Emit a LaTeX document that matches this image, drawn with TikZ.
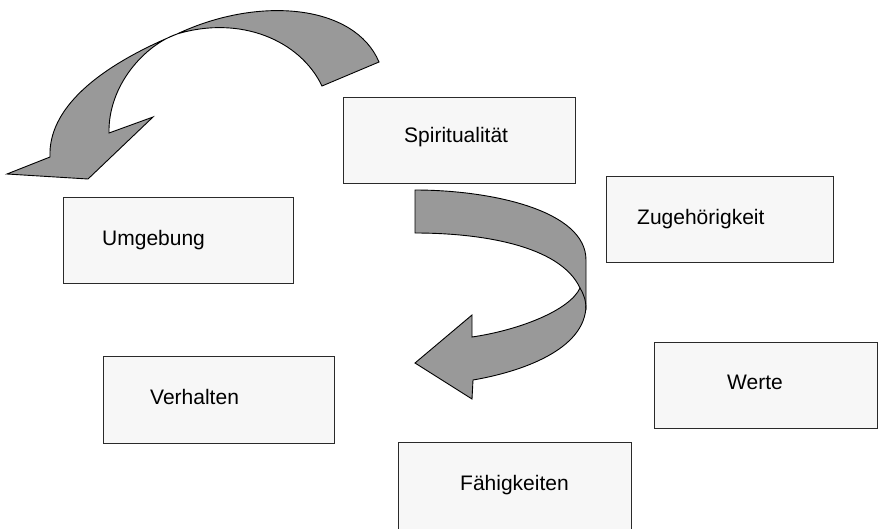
\documentclass[tikz,border=0pt]{standalone}
\usepackage{fontspec}
\setmainfont{Liberation Sans}
\definecolor{boxfill}{HTML}{F7F7F7}
\definecolor{arrowfill}{HTML}{999999}
\definecolor{boxline}{HTML}{2A2A2A}
\begin{document}
\begin{tikzpicture}[x=1pt,y=-1pt,
  box/.style={draw=boxline,fill=boxfill,line width=1pt,rectangle,anchor=north west,inner sep=0pt,outer sep=0pt},
  lbl/.style={anchor=base west,inner sep=0pt,font=\fontsize{21}{25}\selectfont},
  ribbon/.style={fill=arrowfill,draw=black,line width=0.9pt,line join=miter}]
\useasboundingbox (0,0) rectangle (878,528);
\clip (0,0) rectangle (878,528);
% boxes
\node[box,minimum width=232pt,minimum height=86pt] (spir) at (343,97) {};
\node[box,minimum width=230pt,minimum height=86pt] (umg) at (63,197) {};
\node[box,minimum width=227pt,minimum height=86pt] (zug) at (606,176) {};
\node[box,minimum width=223pt,minimum height=86pt] (wer) at (654,342) {};
\node[box,minimum width=233pt,minimum height=90pt] (fae) at (398,442) {};
\node[box,minimum width=231pt,minimum height=87pt] (ver) at (103,356) {};
% labels
\node[lbl] (tspir) at (404,142) {Spiritualität};
\node[lbl] (tumg) at (102,245) {Umgebung};
\node[lbl] (tzug) at (637,224) {Zugehörigkeit};
\node[lbl] (twer) at (727,389) {Werte};
\node[lbl] (tfae) at (460,490) {Fähigkeiten};
\node[lbl] (tver) at (150,404) {Verhalten};
% arrow 1 (top left)
\draw[ribbon] (379,62) .. controls (355,5) and (260,-5) .. (177,34)
  .. controls (95,68) and (48,110) .. (50,157)
  -- (7,174) -- (88,179) -- (153,117) -- (109,133)
  .. controls (108,85) and (145,45) .. (177,34)
  .. controls (240,15) and (300,40) .. (322,86) -- cycle;
% arrow 2 (middle)
\draw[ribbon] (415,190) .. controls (490,190) and (586,210) .. (586,260)
  -- (586,305)
  .. controls (586,350) and (520,372) .. (473,380)
  -- (472,399) -- (415,363) -- (472,315) -- (472,337)
  .. controls (520,330) and (570,310) .. (580,288)
  .. controls (560,245) and (480,233) .. (415,233) -- cycle;
\draw[black,line width=0.9pt] (580,288) .. controls (584,295) and (586,300) .. (586,310);
\end{tikzpicture}
\end{document}
